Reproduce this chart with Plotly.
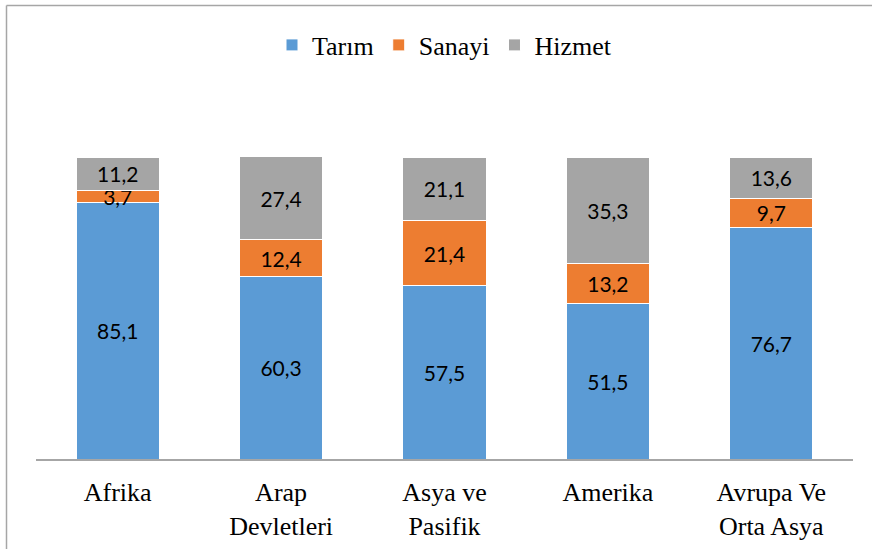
import plotly.graph_objects as go

categories = ["Afrika", "Arap<br>Devletleri", "Asya ve<br>Pasifik", "Amerika", "Avrupa Ve<br>Orta Asya"]
tarim = [85.1, 60.3, 57.5, 51.5, 76.7]
sanayi = [3.7, 12.4, 21.4, 13.2, 9.7]
hizmet = [11.2, 27.4, 21.1, 35.3, 13.6]

series = [("Tarım", tarim, "#5B9BD5"), ("Sanayi", sanayi, "#ED7D31"), ("Hizmet", hizmet, "#A5A5A5")]

SERIF = "Liberation Serif, Times New Roman, serif"
fig = go.Figure()
for name, vals, color in series:
    fig.add_trace(go.Bar(
        name=name, x=categories, y=vals,
        marker=dict(color=color, line=dict(color="white", width=1)),
        texttemplate="%{y:.1f}", textposition="inside", insidetextanchor="middle",
        textangle=0, constraintext="none",
        textfont=dict(family="Lato", size=21, color="black"),
    ))

W, H = 872, 549
L, R, T, B = 36, 19, 157, 90
pw, ph = W - L - R, H - T - B

fig.update_layout(
    barmode="stack", bargap=0.49, separators=", ",
    width=W, height=H, margin=dict(l=L, r=R, t=T, b=B, autoexpand=False),
    plot_bgcolor="white", paper_bgcolor="white",
    font=dict(family=SERIF, size=26, color="black"),
    showlegend=True,
    legend=dict(orientation="h", x=0.5, xanchor="center", y=(H - B - 45) / ph, yanchor="middle",
                font=dict(family=SERIF, size=26), traceorder="normal", itemwidth=30),
    xaxis=dict(showline=True, linecolor="#A6A6A6", linewidth=1.5, ticks="outside", ticklen=9,
               tickcolor="rgba(0,0,0,0)", tickfont=dict(family=SERIF, size=26), showgrid=False),
    yaxis=dict(range=[0, 100], visible=False, showgrid=False),
    shapes=[
        dict(type="line", xref="paper", yref="paper", x0=(6.5 - L) / pw, x1=(W - L) / pw,
             y0=(H - B - 5.5) / ph, y1=(H - B - 5.5) / ph, line=dict(color="#A6A6A6", width=1.5)),
        dict(type="line", xref="paper", yref="paper", x0=(6.5 - L) / pw, x1=(6.5 - L) / pw,
             y0=(H - B - 5.5) / ph, y1=(H - B - H) / ph, line=dict(color="#A6A6A6", width=1.5)),
    ],
)

fig.write_html("out.html", config={"displayModeBar": False},
               post_script="document.body.style.margin='0';")
